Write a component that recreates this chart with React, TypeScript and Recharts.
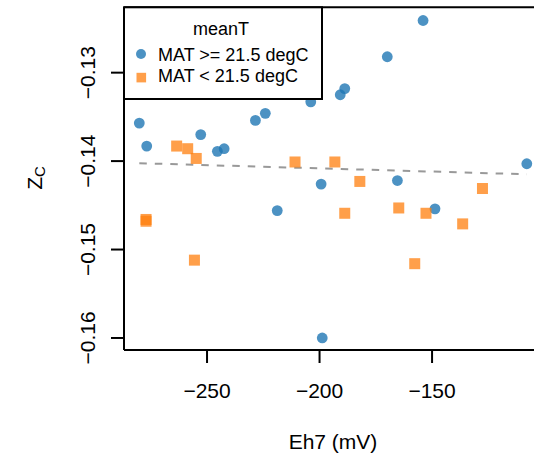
import React from 'react'
import {
  ScatterChart,
  Scatter,
  XAxis,
  YAxis,
  ReferenceLine,
} from 'recharts'

// Eh7 (mV) vs Zc, split by mean annual temperature
const warmEh = [
  -280.1, -276.8, -252.8, -245.4, -242.4, -228.5, -224.1, -203.9, -190.8,
  -188.8, -169.9, -154.0, -107.9, -218.8, -199.3, -165.4, -148.7, -198.8,
]
const warmZc = [
  -0.1357, -0.1383, -0.137, -0.1389, -0.1386, -0.1354, -0.1346, -0.1333, -0.1325,
  -0.1318, -0.1282, -0.1241, -0.1403, -0.1456, -0.1426, -0.1422, -0.1454, -0.16,
]
const coolEh = [
  -263.5, -258.6, -254.8, -210.9, -193.2, -182.1, -277.1, -277.1, -255.6,
  -188.8, -164.8, -152.7, -127.6, -136.4, -157.7,
]
const coolZc = [
  -0.1383, -0.1386, -0.1397, -0.1401, -0.1401, -0.1423, -0.1466, -0.1468, -0.1512,
  -0.1459, -0.1453, -0.1459, -0.1431, -0.1471, -0.1516,
]
// linear fit, drawn over the data range
const fitEh = [-280.1, -107.9]
const fitZc = [-0.14024, -0.14149]

const xTicks = [-250, -200, -150]
const yTicks = [-0.16, -0.15, -0.14, -0.13]
const xDomain = [-286.9, -104.7]
const yDomain = [-0.16136, -0.12261]

const legendTitle = 'meanT'
const legendLabels = ['MAT >= 21.5 degC', 'MAT < 21.5 degC']

const BLUE = '#1f77b4'
const ORANGE = '#ff7f0e'
const FONT = '"Liberation Sans", Arial, Helvetica, sans-serif'

const warm = warmEh.map((x, i) => ({ x, y: warmZc[i] }))
const cool = coolEh.map((x, i) => ({ x, y: coolZc[i] }))

const minus = (s: string) => s.replace('-', '\u2212')

const YTick = ({ x, y, payload }: any) => {
  const cx = x - 23
  return (
    <text
      x={cx}
      y={y}
      dy="0.355em"
      transform={`rotate(-90, ${cx}, ${y})`}
      textAnchor="middle"
      fontSize={21}
      fontFamily={FONT}
      fill="#000"
    >
      {minus(payload.value.toFixed(2))}
    </text>
  )
}

const YLabel = () => (
  <text
    x={42}
    y={178}
    transform="rotate(-90, 42, 178)"
    textAnchor="middle"
    fontFamily={FONT}
    fill="#000"
  >
    <tspan fontSize={21}>Z</tspan>
    <tspan fontSize={15} dy={3}>C</tspan>
  </text>
)

export default function App() {
  return (
    <div style={{ position: 'relative', width: 534, height: 454, background: '#fff' }}>
      <style>{'body{margin:0}'}</style>
      <ScatterChart
        width={534}
        height={454}
        margin={{ top: 7.3, right: 0, bottom: 0, left: 0 }}
      >
        <XAxis
          type="number"
          dataKey="x"
          domain={xDomain}
          ticks={xTicks}
          allowDataOverflow
          height={104}
          tickSize={13}
          tickMargin={20}
          tickFormatter={(v) => minus(String(v))}
          tick={{ fontSize: 21, fontFamily: FONT, fill: '#000' }}
          axisLine={{ stroke: '#000', strokeWidth: 2 }}
          tickLine={{ stroke: '#000', strokeWidth: 2 }}
          label={{
            value: 'Eh7 (mV)',
            position: 'insideBottom',
            offset: 5,
            dx: 4,
            fontSize: 21,
            fontFamily: FONT,
            fill: '#000',
          }}
        />
        <YAxis
          type="number"
          dataKey="y"
          domain={yDomain}
          ticks={yTicks}
          allowDataOverflow
          width={124}
          tickSize={13}
          tickMargin={0}
          tick={<YTick />}
          axisLine={{ stroke: '#000', strokeWidth: 2 }}
          tickLine={{ stroke: '#000', strokeWidth: 2 }}
          label={<YLabel />}
        />
        <ReferenceLine y={yDomain[1]} stroke="#000" strokeWidth={2} />
        <Scatter
          data={warm}
          isAnimationActive={false}
          shape={(p: any) => (
            <circle cx={p.cx} cy={p.cy} r={5.4} fill={BLUE} fillOpacity={0.8} />
          )}
        />
        <Scatter
          data={cool}
          isAnimationActive={false}
          shape={(p: any) => (
            <rect
              x={p.cx - 5.5}
              y={p.cy - 5.5}
              width={11}
              height={11}
              fill={ORANGE}
              fillOpacity={0.75}
            />
          )}
        />
        <ReferenceLine
          segment={[
            { x: fitEh[0], y: fitZc[0] },
            { x: fitEh[1], y: fitZc[1] },
          ]}
          stroke="#999"
          strokeWidth={2}
          strokeDasharray="7.5 8"
        />
      </ScatterChart>

      {/* legend box, top-left corner of the plot */}
      <svg
        width={200}
        height={94}
        style={{ position: 'absolute', left: 123, top: 6 }}
      >
        <rect x={1} y={1.3} width={198} height={91.7} fill="#fff" stroke="#000" strokeWidth={2} />
        <text x={98} y={29} textAnchor="middle" fontSize={18} fontFamily={FONT}>
          {legendTitle}
        </text>
        <circle cx={18} cy={48} r={5} fill={BLUE} fillOpacity={0.8} />
        <text x={35} y={54.7} fontSize={18} fontFamily={FONT}>
          {legendLabels[0]}
        </text>
        <rect x={13.5} y={66.8} width={9.6} height={9.6} fill={ORANGE} fillOpacity={0.75} />
        <text x={35} y={75.7} fontSize={18} fontFamily={FONT}>
          {legendLabels[1]}
        </text>
      </svg>
    </div>
  )
}
